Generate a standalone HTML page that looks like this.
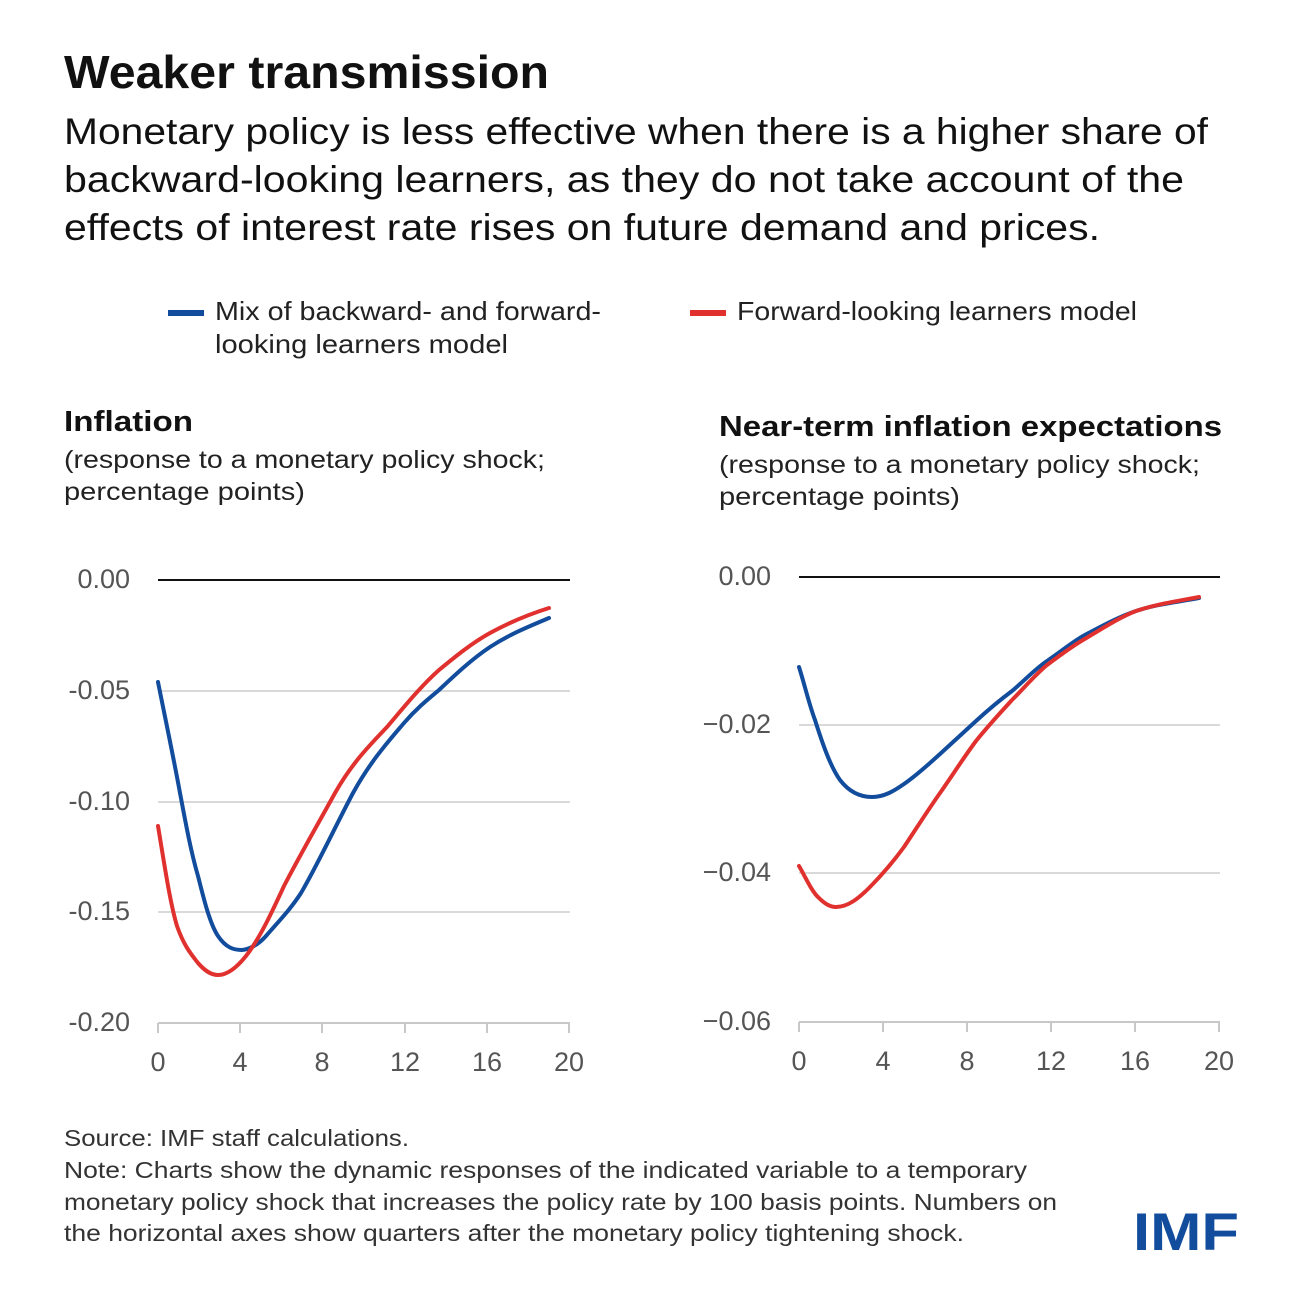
<!DOCTYPE html>
<html><head><meta charset="utf-8"><style>
html,body{margin:0;padding:0;background:#fff}
svg{display:block}
text{font-family:"Liberation Sans",sans-serif}
</style></head><body>
<svg width="1300" height="1300" viewBox="0 0 1300 1300" xmlns="http://www.w3.org/2000/svg">
<rect width="1300" height="1300" fill="#fff"/>
<text x="64" y="88" font-size="46" font-weight="bold" fill="#111" textLength="485" lengthAdjust="spacingAndGlyphs">Weaker transmission</text>
<g font-size="37" fill="#111">
<text x="64" y="144" textLength="1144" lengthAdjust="spacingAndGlyphs">Monetary policy is less effective when there is a higher share of</text>
<text x="64" y="192" textLength="1120" lengthAdjust="spacingAndGlyphs">backward-looking learners, as they do not take account of the</text>
<text x="64" y="240" textLength="1036" lengthAdjust="spacingAndGlyphs">effects of interest rate rises on future demand and prices.</text>
</g>
<line x1="168" y1="313" x2="204" y2="313" stroke="#124c9c" stroke-width="6"/>
<g font-size="26" fill="#222">
<text x="215" y="320" textLength="386" lengthAdjust="spacingAndGlyphs">Mix of backward- and forward-</text>
<text x="215" y="353" textLength="293" lengthAdjust="spacingAndGlyphs">looking learners model</text>
<text x="737" y="320" textLength="400" lengthAdjust="spacingAndGlyphs">Forward-looking learners model</text>
</g>
<line x1="690" y1="313" x2="726" y2="313" stroke="#e0312e" stroke-width="6"/>
<text x="64" y="431" font-size="29" font-weight="bold" fill="#111" textLength="129" lengthAdjust="spacingAndGlyphs">Inflation</text>
<g font-size="25" fill="#222">
<text x="64" y="468" textLength="481" lengthAdjust="spacingAndGlyphs">(response to a monetary policy shock;</text>
<text x="64" y="500" textLength="241" lengthAdjust="spacingAndGlyphs">percentage points)</text>
</g>
<text x="719" y="436" font-size="29" font-weight="bold" fill="#111" textLength="503" lengthAdjust="spacingAndGlyphs">Near-term inflation expectations</text>
<g font-size="25" fill="#222">
<text x="719" y="473" textLength="481" lengthAdjust="spacingAndGlyphs">(response to a monetary policy shock;</text>
<text x="719" y="505" textLength="241" lengthAdjust="spacingAndGlyphs">percentage points)</text>
</g>
<g stroke="#d9d9d9" stroke-width="2">
<line x1="158" y1="691" x2="570" y2="691"/>
<line x1="158" y1="802" x2="570" y2="802"/>
<line x1="158" y1="912" x2="570" y2="912"/>
</g>
<line x1="158" y1="580" x2="570" y2="580" stroke="#111" stroke-width="2"/>
<g stroke="#c8c8c8" stroke-width="2">
<line x1="158" y1="1023" x2="570" y2="1023"/>
<line x1="158" y1="1023" x2="158" y2="1033"/><line x1="240" y1="1023" x2="240" y2="1033"/>
<line x1="322" y1="1023" x2="322" y2="1033"/><line x1="405" y1="1023" x2="405" y2="1033"/>
<line x1="487" y1="1023" x2="487" y2="1033"/><line x1="569" y1="1023" x2="569" y2="1033"/>
</g>
<g font-size="27" fill="#555" text-anchor="end">
<text x="130" y="588">0.00</text><text x="130" y="699">-0.05</text><text x="130" y="810">-0.10</text>
<text x="130" y="920">-0.15</text><text x="130" y="1031">-0.20</text>
</g>
<g font-size="27" fill="#555" text-anchor="middle">
<text x="158" y="1071">0</text><text x="240" y="1071">4</text><text x="322" y="1071">8</text>
<text x="405" y="1071">12</text><text x="487" y="1071">16</text><text x="569" y="1071">20</text>
</g>
<g fill="none" stroke-width="4" stroke-linecap="round" stroke-linejoin="round">
<path stroke="#124c9c" d="M158,682 C166,722 174,760 180,793 C186,825 191,852 198,876 C204,900 210,924 218,936 C226,948 234,950 242,950 C250,949 258,945 266,936 C278,922 290,910 301,893 C318,864 336,825 353,793 C370,762 387,743 404,723 C416,709 427,700 439,690 C456,674 472,659 490,647 C510,634 530,626 549,618"/>
<path stroke="#e0312e" d="M158,826 C164,862 170,903 177,926 C184,946 191,954 198,963 C205,971 211,975 218,975 C228,975 238,966 246,956 C260,938 272,912 284,886 C300,855 318,824 335,793 C352,763 369,746 387,727 C404,707 421,686 439,670 C456,656 472,643 490,633 C510,622 530,614 549,608"/>
</g>
<g stroke="#d9d9d9" stroke-width="2">
<line x1="799" y1="725" x2="1220" y2="725"/>
<line x1="799" y1="873" x2="1220" y2="873"/>
</g>
<line x1="799" y1="577" x2="1220" y2="577" stroke="#111" stroke-width="2"/>
<g stroke="#c8c8c8" stroke-width="2">
<line x1="799" y1="1022" x2="1220" y2="1022"/>
<line x1="799" y1="1022" x2="799" y2="1032"/><line x1="883" y1="1022" x2="883" y2="1032"/>
<line x1="967" y1="1022" x2="967" y2="1032"/><line x1="1051" y1="1022" x2="1051" y2="1032"/>
<line x1="1135" y1="1022" x2="1135" y2="1032"/><line x1="1219" y1="1022" x2="1219" y2="1032"/>
</g>
<g font-size="27" fill="#555" text-anchor="end">
<text x="771" y="585">0.00</text><text x="771" y="733">−0.02</text>
<text x="771" y="881">−0.04</text><text x="771" y="1030">−0.06</text>
</g>
<g font-size="27" fill="#555" text-anchor="middle">
<text x="799" y="1070">0</text><text x="883" y="1070">4</text><text x="967" y="1070">8</text>
<text x="1051" y="1070">12</text><text x="1135" y="1070">16</text><text x="1219" y="1070">20</text>
</g>
<g fill="none" stroke-width="4" stroke-linecap="round" stroke-linejoin="round">
<path stroke="#124c9c" d="M799,667 C805,686 809,704 815,720 C822,742 830,766 840,780 C850,793 862,797 872,797 C884,797 894,791 904,784 C917,775 929,764 940,754 C952,743 964,732 976,721 C988,710 1000,700 1012,691 C1024,681 1035,669 1047,661 C1059,653 1071,643 1083,636 C1100,627 1118,617 1136,611 C1157,604 1178,602 1199,598"/>
<path stroke="#e0312e" d="M799,866 C806,878 812,892 819,898 C825,904 830,907 836,907 C848,907 859,898 869,888 C882,875 893,862 904,847 C916,829 928,810 940,793 C952,776 964,757 976,741 C988,726 1000,713 1012,700 C1024,688 1035,675 1047,665 C1059,656 1071,647 1083,640 C1100,630 1118,618 1136,611 C1157,604 1178,601 1199,597"/>
</g>
<g font-size="23" fill="#333">
<text x="64" y="1146" textLength="345" lengthAdjust="spacingAndGlyphs">Source: IMF staff calculations.</text>
<text x="64" y="1178" textLength="963" lengthAdjust="spacingAndGlyphs">Note: Charts show the dynamic responses of the indicated variable to a temporary</text>
<text x="64" y="1210" textLength="993" lengthAdjust="spacingAndGlyphs">monetary policy shock that increases the policy rate by 100 basis points. Numbers on</text>
<text x="64" y="1241" textLength="900" lengthAdjust="spacingAndGlyphs">the horizontal axes show quarters after the monetary policy tightening shock.</text>
</g>
<text x="1133" y="1250" font-size="53" font-weight="bold" fill="#124c9c" textLength="106" lengthAdjust="spacingAndGlyphs">IMF</text>
</svg>
</body></html>
